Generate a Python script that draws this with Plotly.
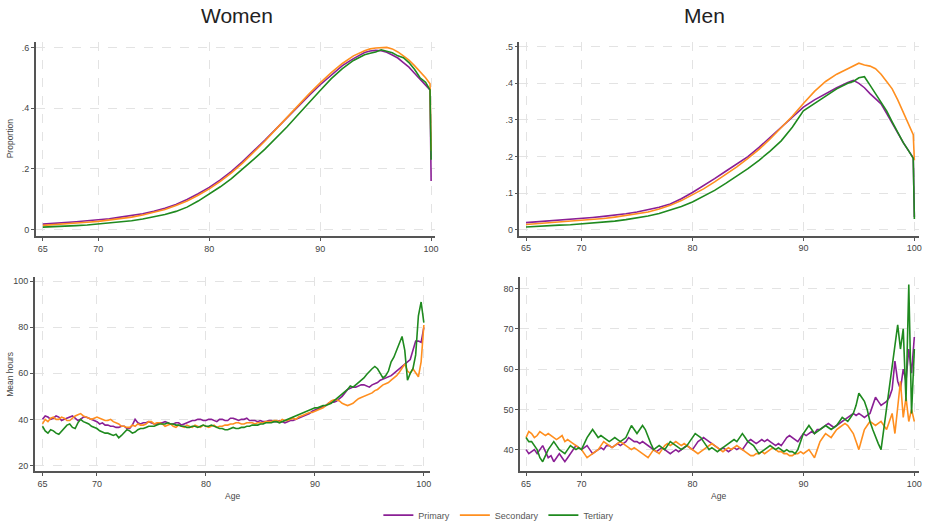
import plotly.graph_objects as go

# ---------------- data ----------------
series_names = ["Primary", "Secondary", "Tertiary"]
series_colors = ["#8a1f95", "#ff8f1f", "#1f8a1f"]

# Top panels: proportion by age
age_top = list(range(65, 95)) + [94.5, 95, 95.5, 96, 96.5, 97, 97.5, 98, 98.5, 99, 99.5, 99.9, 100]

women_prop_primary = [.018, .020, .023, .026, .029, .032, .036, .041, .046, .052, .060, .070, .083, .099, .118,
                      .139, .164, .192, .224, .258, .294, .331, .369, .406, .442, .477, .510, .540, .563, .583,
                      .588, .590, .589, .584, .575, .565, .550, .535, .515, .495, .478, .460, .160]
women_prop_secondary = [.014, .016, .018, .021, .024, .027, .031, .036, .041, .048, .056, .066, .079, .094, .113,
                        .134, .159, .187, .219, .254, .291, .330, .370, .409, .447, .483, .517, .547, .572, .589,
                        .595, .598, .600, .600, .595, .585, .572, .558, .540, .520, .500, .480, .260]
women_prop_tertiary = [.008, .009, .011, .013, .015, .018, .021, .025, .029, .035, .042, .050, .060, .074, .094,
                       .117, .141, .168, .198, .231, .264, .300, .338, .378, .419, .458, .497, .530, .557, .576,
                       .581, .585, .592, .586, .582, .572, .566, .550, .528, .500, .485, .460, .230]

men_prop_primary = [.020, .022, .024, .026, .028, .031, .034, .037, .040, .044, .049, .055, .062, .071, .085,
                    .102, .120, .140, .160, .180, .200, .225, .252, .280, .308, .335, .355, .372, .388, .402,
                    .408, .400, .388, .372, .358, .344, .318, .290, .262, .238, .215, .197, .035]
men_prop_secondary = [.015, .017, .019, .021, .023, .025, .028, .031, .035, .039, .043, .049, .057, .067, .080,
                      .095, .112, .131, .151, .172, .195, .220, .248, .278, .310, .345, .378, .405, .425, .440,
                      .448, .455, .450, .447, .440, .425, .405, .385, .355, .320, .285, .260, .190]
men_prop_tertiary = [.008, .010, .011, .013, .014, .016, .018, .021, .024, .028, .032, .038, .045, .054, .064,
                     .076, .091, .108, .127, .146, .167, .190, .215, .243, .280, .325, .345, .365, .385, .400,
                     .405, .415, .418, .395, .372, .350, .325, .295, .265, .238, .215, .195, .030]

# Bottom panels: mean hours by age (quarter-year steps, 65 .. 100)
age_bottom = [65 + 0.25 * i for i in range(141)]

women_hours_primary = [
    40, 41.5, 41, 40,    40.5, 41.5, 41, 39.5,  40, 40.5, 41, 41.5,  40.5, 39.5, 40, 41,
    41, 40.5, 40, 39.5,  39, 38, 38.5, 37.5,    37.5, 37, 37, 36.5,  36.5, 37, 37, 36,
    36, 37.5, 40, 38.5,  38, 38.5, 38.5, 39,    38.5, 38, 38, 38.5,  38.5, 39, 38.5, 38,
    38, 38.5, 38.5, 37.5, 38, 38.5, 39, 39.5,   39.5, 40, 40, 39.5,  39.5, 40, 40, 39.5,
    39, 40, 40, 39.5,    39.5, 40.5, 40.5, 40,  39.5, 40, 40, 40.5,  39.5, 39.5, 39.5, 39,
    39.5, 39, 39, 39.5,  39.5, 39, 39, 39.5,    39, 38.5, 39, 39.5,  39.5, 40, 40.5, 41,
    41.5, 42, 42.5, 43.5, 44, 44.5, 45, 45.5,   46, 47, 47.5, 47.5,  48, 49, 50, 51.5,
    53, 53.5, 54, 54,    54.5, 55, 55, 54.5,    54, 55, 55.5, 56,    57, 57.5, 58, 58.5,
    59, 60, 61, 62,      63, 64, 65, 66,        70, 74, 74, 73.5,    80]
women_hours_secondary = [
    38, 40, 39, 40.5,    41, 40, 40, 41,        40.5, 39.5, 39.5, 40.5, 41.5, 42, 42.5, 41.5,
    41, 40.5, 40, 40.5,  41, 40.5, 40, 39.5,    39.5, 40, 39, 38.5,  38, 37, 37, 36.5,
    36.5, 37.5, 37, 38,  37.5, 37.5, 38, 39,    39, 38, 38.5, 38.5,  38, 37, 37.5, 38,
    37, 36.5, 37.5, 37,  36.5, 37.5, 37, 36.5,  37.5, 37, 36.5, 37.5, 37, 36.5, 37, 37.5,
    36.5, 37, 37, 37.5,  37.5, 38, 38, 38.5,    38.5, 38, 38, 38.5,  38.5, 38.5, 38, 38.5,
    38.5, 38.5, 39, 39,  39, 39.5, 39.5, 39,    40, 39.5, 39.5, 40,  40.5, 40, 41, 41.5,
    42, 42.5, 43, 43,    43.5, 44, 44.5, 45,    46, 47, 48, 48.5,    48.5, 48, 47, 46.5,
    46, 46.5, 47, 48,    49, 49.5, 50, 50.5,    51, 51.5, 52.5, 53,  54, 55, 55.5, 56,
    57, 58, 59, 60.5,    62, 64, 61, 60,        62, 60, 58.5, 65,    81]
women_hours_tertiary = [
    37, 35, 34, 35.5,    35, 34, 33.5, 35,      36, 37.5, 38, 36.5,  36, 38.5, 40, 39,
    38.5, 38, 37, 36.5,  36, 35, 34.5, 34,      34, 33.5, 33, 33.5,  32, 33, 34.5, 35.5,
    35, 34, 34.5, 35.5,  36, 36, 36.5, 37,      37, 37, 37.5, 38,    38, 38, 38.5, 38,
    38, 37.5, 37.5, 37,  37, 36.5, 36.5, 37,    37, 36.5, 37, 37.5,  37, 37, 37.5, 37,
    36.5, 36, 36, 35.5,  35.5, 36, 36.5, 36,    36, 36.5, 36.5, 37,  37, 37.5, 37.5, 37.5,
    38, 38, 38.5, 38.5,  38.5, 39, 39, 38.5,    39, 39.5, 40, 40.5,  41, 41.5, 42, 42.5,
    43, 43.5, 44, 44.5,  45, 45, 45.5, 46,      46, 46.5, 47, 48,    49, 50, 51, 52,
    53, 54.5, 54, 55,    56, 57, 58, 59.5,      61, 62, 63, 62,      60, 58, 59, 61,
    65, 67, 70, 73,      76, 70, 57, 60,        62, 68, 85, 91,      82]

men_hours_primary = [
    40, 39, 39.5, 40,    39, 40, 41, 39.5,      38, 38.5, 37, 38,    39, 38, 37, 38,
    39, 40, 41, 40.5,    40, 40.5, 41, 40,      39, 39.5, 40, 40.5,  40, 41, 41, 40.5,
    41, 41.5, 41, 41.5,  42, 43, 42.5, 42,      42, 41.5, 42, 41.5,  41, 40.5, 40, 39.5,
    40, 40.5, 40, 39.5,  39, 39.5, 40, 39.5,    40, 40.5, 41, 40.5,  40, 41, 42, 42.5,
    43, 42.5, 42, 41.5,  41, 40.5, 40, 40.5,    40, 39.5, 40, 40.5,  40, 40.5, 40, 41,
    42, 42.5, 42, 41.5,  42, 42.5, 42, 42.5,    42, 41.5, 41, 41.5,  41, 42, 43, 43.5,
    43, 42.5, 42, 43,    44, 43.5, 44, 44.5,    44, 45, 45, 45.5,    46, 46.5, 46, 45.5,
    46, 46.5, 47, 47.5,  48, 48.5, 49, 48.5,    49, 48.5, 48, 48.5,  49, 51, 53, 52,
    51, 51.5, 52, 53,    55, 62, 57, 55,        60, 57, 65, 59,      68]
men_hours_secondary = [
    43, 44.5, 44, 43,    43.5, 44.5, 44, 43.5,  44, 43.5, 43, 42.5,  43, 43.5, 42, 42.5,
    42, 41.5, 41, 40.5,  40, 39, 38, 38.5,      39, 39.5, 40, 41,    42, 41.5, 41, 40.5,
    41, 41.5, 42, 41.5,  41, 40.5, 40, 40.5,    40, 39.5, 39, 38.5,  38, 39, 40, 39.5,
    39, 40, 41, 41.5,    41, 41.5, 42, 41.5,    41, 41.5, 41, 40.5,  40, 39.5, 39, 39.5,
    40, 40.5, 41, 41.5,  41, 40.5, 40, 39.5,    40, 40.5, 40, 40.5,  41, 40.5, 40, 39.5,
    39, 38.5, 38.5, 39,  39, 39.5, 39, 39.5,    40, 40.5, 40, 39.5,  39.5, 39, 39, 38.5,
    38.5, 39, 39, 39.5,  39, 39.5, 40, 39,      38, 40, 42, 43,      44, 43.5, 43, 44,
    45, 45.5, 46, 46.5,  46, 45, 44, 42,        40, 42.5, 45, 46,    47, 46.5, 46, 46.5,
    47, 46, 45, 47,      49, 44, 50, 57,        48, 53, 47, 50,      47]
men_hours_tertiary = [
    43, 42, 42, 41,      40, 38, 37, 38.5,      40, 41, 42, 41,      40, 39.5, 39, 40,
    41, 40.5, 40, 40.5,  40, 41.5, 43, 44,      45, 44, 43, 43.5,    43, 42.5, 42, 42.5,
    43, 42.5, 42, 42.5,  43, 44.5, 46, 45,      44, 45, 46, 45,      43, 41.5, 40, 40.5,
    41, 40.5, 40, 41,    42, 41.5, 41, 40.5,    40, 40.5, 41, 42,    43, 44, 43.5, 43,
    42, 41, 40, 40.5,    40, 39.5, 40, 40.5,    41, 41.5, 42, 42.5,  42, 43, 44, 43,
    42, 41.5, 41, 40,    39, 39.5, 40, 40.5,    41, 40.5, 40, 40.5,  40, 39.5, 40, 39.5,
    39.5, 39, 40, 42,    44, 45, 46, 45,        44, 44.5, 45, 45.5,  46, 45.5, 45, 45.5,
    46, 47, 48, 47.5,    47, 48, 49, 51,        54, 53, 52, 50,      47, 45, 43, 41.5,
    40, 45, 50, 55,      60, 65, 71, 65,        70, 52, 81, 49,      65]

x_ticks = [65, 70, 80, 90, 100]
women_prop_ticks = [0, 0.2, 0.4, 0.6]
women_prop_labels = ["0", ".2", ".4", ".6"]
men_prop_ticks = [0, 0.1, 0.2, 0.3, 0.4, 0.5]
men_prop_labels = ["0", ".1", ".2", ".3", ".4", ".5"]
women_hours_ticks = [20, 40, 60, 80, 100]
men_hours_ticks = [40, 50, 60, 70, 80]

# ---------------- figure ----------------
W, H = 929, 530
fig = go.Figure()

panels = [
    ("x", "y", age_top, [women_prop_primary, women_prop_secondary, women_prop_tertiary]),
    ("x2", "y2", age_top, [men_prop_primary, men_prop_secondary, men_prop_tertiary]),
    ("x3", "y3", age_bottom, [women_hours_primary, women_hours_secondary, women_hours_tertiary]),
    ("x4", "y4", age_bottom, [men_hours_primary, men_hours_secondary, men_hours_tertiary]),
]
for pi, (xa, ya, xs, ys_list) in enumerate(panels):
    for si, ys in enumerate(ys_list):
        fig.add_trace(go.Scatter(
            x=xs, y=ys, xaxis=xa, yaxis=ya, mode="lines",
            line=dict(color=series_colors[si], width=1.6),
            name=series_names[si], showlegend=(pi == 0), legendgroup=series_names[si],
        ))

def px_x(a, b):
    return [a / W, b / W]

def px_y(top, bottom):
    return [1 - bottom / H, 1 - top / H]

tick_font = dict(family="Liberation Sans, Arial, sans-serif", size=9, color="#444444")
axis_common = dict(showline=True, linecolor="#555555", linewidth=1.5, ticks="outside",
                   ticklen=3, tickcolor="#555555", tickwidth=1, showgrid=True,
                   gridcolor="#e3e3e3", griddash="dash", gridwidth=1, zeroline=False,
                   tickfont=tick_font, mirror=False)

fig.update_layout(
    width=W, height=H, margin=dict(l=0, r=0, t=0, b=0),
    paper_bgcolor="white", plot_bgcolor="white",
    xaxis=dict(domain=px_x(36, 437), range=[64.37, 100.36], tickvals=x_ticks, anchor="y", **axis_common),
    yaxis=dict(domain=px_y(41.7, 239.5), range=[-0.021, 0.618], tickvals=women_prop_ticks,
               ticktext=women_prop_labels, anchor="x", **axis_common),
    xaxis2=dict(domain=px_x(521.7, 923), range=[64.41, 100.42], tickvals=x_ticks, anchor="y2", **axis_common),
    yaxis2=dict(domain=px_y(41.7, 239.3), range=[-0.016, 0.513], tickvals=men_prop_ticks,
                ticktext=men_prop_labels, anchor="x2", **axis_common),
    xaxis3=dict(domain=px_x(35, 431.7), range=[64.30, 100.55], tickvals=x_ticks, anchor="y3", **axis_common),
    yaxis3=dict(domain=px_y(281.7, 479), range=[17.57, 101.7], tickvals=women_hours_ticks, anchor="x3", **axis_common),
    xaxis4=dict(domain=px_x(522.3, 923.3), range=[64.46, 100.45], tickvals=x_ticks, anchor="y4", **axis_common),
    yaxis4=dict(domain=px_y(281.7, 479), range=[34.7, 82.8], tickvals=men_hours_ticks, anchor="x4", **axis_common),
    legend=dict(orientation="h", x=380 / W, xanchor="left", y=1 - 524 / H, yanchor="middle",
                font=dict(family="Liberation Sans, Arial, sans-serif", size=9, color="#555555"),
                itemwidth=30, tracegroupgap=0, bgcolor="rgba(0,0,0,0)"),
    showlegend=True,
)

title_font = dict(family="Liberation Sans, Arial, sans-serif", size=21, color="#222222")
small_font = dict(family="Liberation Sans, Arial, sans-serif", size=8.5, color="#444444")
annos = [
    dict(text="Women", x=238 / W, y=1 - 15 / H, font=title_font),
    dict(text="Men", x=708 / W, y=1 - 15 / H, font=title_font),
    dict(text="Proportion", x=10 / W, y=1 - 140 / H, font=small_font, textangle=-90),
    dict(text="Mean hours", x=10 / W, y=1 - 380 / H, font=small_font, textangle=-90),
    dict(text="Age", x=234 / W, y=1 - 505 / H, font=small_font),
    dict(text="Age", x=722 / W, y=1 - 505 / H, font=small_font),
]
for a in annos:
    fig.add_annotation(xref="paper", yref="paper", showarrow=False, xanchor="center", yanchor="middle", **a)

fig.write_html("out.html", config={"displayModeBar": False},
               post_script="document.body.style.margin='0';document.body.style.overflow='hidden';")
